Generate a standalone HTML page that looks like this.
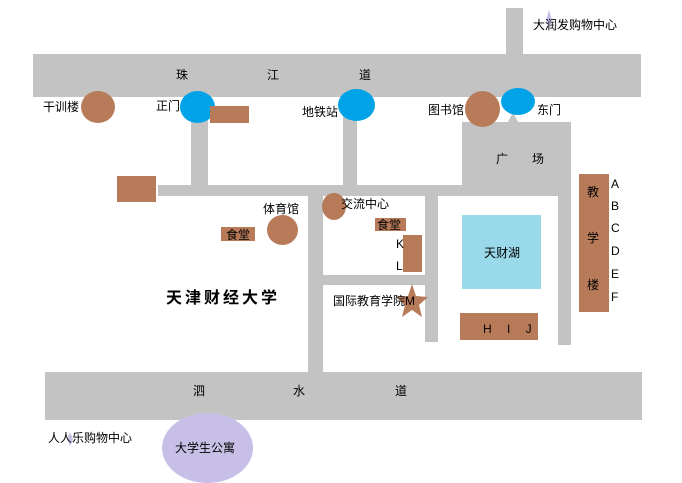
<!DOCTYPE html>
<html><head><meta charset="utf-8"><style>
body{margin:0;width:682px;height:480px;background:#fff;position:relative;overflow:hidden;font-family:"Liberation Sans","Noto Sans CJK SC",sans-serif;font-size:12px;color:#000}
div{position:absolute}
.g{background:#c3c3c3}
.b{background:#b87b59}
.c{border-radius:50%}
.blue{background:#00a2e8}
.t{white-space:nowrap;line-height:14px}
</style></head><body>
<div class="g" style="left:506px;top:8px;width:17px;height:48px"></div>
<div class="g" style="left:33px;top:54px;width:608px;height:43px"></div>
<div class="g" style="left:191px;top:112px;width:17px;height:76px"></div>
<div class="g" style="left:343px;top:112px;width:14px;height:76px"></div>
<div class="g" style="left:158px;top:185px;width:413px;height:11px"></div>
<div class="g" style="left:462px;top:122px;width:109px;height:74px"></div>
<div class="g" style="left:558px;top:190px;width:13px;height:155px"></div>
<div class="g" style="left:425px;top:190px;width:13px;height:152px"></div>
<div class="g" style="left:308px;top:190px;width:15px;height:184px"></div>
<div class="g" style="left:323px;top:275px;width:102px;height:10px"></div>
<div class="g" style="left:45px;top:372px;width:597px;height:48px"></div>
<div class="g" style="left:508px;top:112px;width:0;height:0;border-left:5px solid transparent;border-right:5px solid transparent;border-bottom:10px solid #c3c3c3;background:none"></div>
<div class="b c" style="left:81px;top:91px;width:34px;height:32px"></div>
<div class="blue c" style="left:180px;top:91px;width:35px;height:32px"></div>
<div class="b" style="left:210px;top:106px;width:39px;height:17px"></div>
<div class="blue c" style="left:338px;top:89px;width:37px;height:32px"></div>
<div class="b c" style="left:465px;top:91px;width:35px;height:36px"></div>
<div class="blue c" style="left:501px;top:88px;width:34px;height:27px"></div>
<div class="b" style="left:117px;top:176px;width:39px;height:26px"></div>
<div class="b c" style="left:322px;top:193px;width:24px;height:27px"></div>
<div class="b c" style="left:267px;top:215px;width:31px;height:30px"></div>
<div class="b" style="left:221px;top:227px;width:34px;height:14px"></div>
<div class="b" style="left:375px;top:218px;width:31px;height:13px"></div>
<div class="b" style="left:403px;top:235px;width:19px;height:37px"></div>
<div style="left:462px;top:215px;width:79px;height:74px;background:#99d9ea"></div>
<div class="b" style="left:460px;top:313px;width:78px;height:27px"></div>
<div class="b" style="left:579px;top:174px;width:30px;height:138px"></div>
<div class="c" style="left:162px;top:413px;width:91px;height:70px;background:#c8bfe7"></div>
<svg style="position:absolute;left:0;top:0" width="682" height="480">
<polygon points="412,284 416,296 428,297 419,305 422,317 412,310 402,317 405,305 396,297 408,296" fill="#b87b59"/>
<polygon points="549,10 552,20 549,30 546,20" fill="#c8bfe7"/>
<polygon points="70,432 73,439 70,446 67,439" fill="#c8bfe7"/>
</svg>
<div class="t" style="left:533px;top:18px">大润发购物中心</div>
<div class="t" style="left:176px;top:68px">珠</div>
<div class="t" style="left:267px;top:68px">江</div>
<div class="t" style="left:359px;top:68px">道</div>
<div class="t" style="left:43px;top:100px">干训楼</div>
<div class="t" style="left:156px;top:99px">正门</div>
<div class="t" style="left:302px;top:105px">地铁站</div>
<div class="t" style="left:428px;top:103px">图书馆</div>
<div class="t" style="left:537px;top:103px">东门</div>
<div class="t" style="left:496px;top:152px">广</div>
<div class="t" style="left:532px;top:152px">场</div>
<div class="t" style="left:341px;top:197px">交流中心</div>
<div class="t" style="left:263px;top:202px">体育馆</div>
<div class="t" style="left:226px;top:228px">食堂</div>
<div class="t" style="left:377px;top:218px">食堂</div>
<div class="t" style="left:396px;top:237px">K</div>
<div class="t" style="left:396px;top:259px">L</div>
<div class="t" style="left:484px;top:246px">天财湖</div>
<div class="t" style="left:166px;top:290px;font-size:16px;font-weight:bold;letter-spacing:3px;line-height:18px">天津财经大学</div>
<div class="t" style="left:333px;top:294px">国际教育学院M</div>
<div class="t" style="left:483px;top:322px;letter-spacing:6px">H I J</div>
<div class="t" style="left:587px;top:185px">教</div>
<div class="t" style="left:587px;top:231px">学</div>
<div class="t" style="left:587px;top:278px">楼</div>
<div class="t" style="left:611px;top:177px">A</div>
<div class="t" style="left:611px;top:199px">B</div>
<div class="t" style="left:611px;top:221px">C</div>
<div class="t" style="left:611px;top:244px">D</div>
<div class="t" style="left:611px;top:267px">E</div>
<div class="t" style="left:611px;top:290px">F</div>
<div class="t" style="left:193px;top:384px">泗</div>
<div class="t" style="left:293px;top:384px">水</div>
<div class="t" style="left:395px;top:384px">道</div>
<div class="t" style="left:48px;top:431px">人人乐购物中心</div>
<div class="t" style="left:175px;top:441px">大学生公寓</div>
</body></html>
